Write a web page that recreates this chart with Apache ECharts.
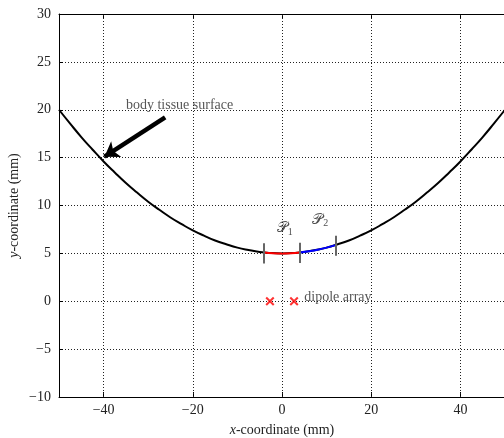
<!DOCTYPE html>
<html>
<head>
<meta charset="utf-8">
<script src="https://cdn.jsdelivr.net/npm/echarts@6/dist/echarts.min.js"></script>
<style>html,body{margin:0;padding:0;background:#fff;}#c{width:504px;height:438px;}</style>
</head>
<body>
<div id="c"></div>
<script>
// ---- data ----
const curveX = [-50,-47.5,-45,-42.5,-40,-37.5,-35,-32.5,-30,-27.5,-25,-22.5,-20,-17.5,-15,-12.5,-10,-7.5,-5,-2.5,0,2.5,5,7.5,10,12.5,15,17.5,20,22.5,25,27.5,30,32.5,35,37.5,40,42.5,45,47.5,50];
const curveY = [20.0,18.55,17.15,15.85,14.6,13.45,12.35,11.35,10.4,9.55,8.75,8.05,7.4,6.85,6.35,5.95,5.6,5.35,5.15,5.04,5.0,5.04,5.15,5.35,5.6,5.95,6.35,6.85,7.4,8.05,8.75,9.55,10.4,11.35,12.35,13.45,14.6,15.85,17.15,18.55,20.0];
const redX = [-4,-2,0,2,4];
const redY = [5.1,5.02,5.0,5.02,5.1];
const blueX = [4,6,8,10,12];
const blueY = [5.1,5.22,5.38,5.6,5.86];
const edgeX = [-4,4,12];
const edgeLow = [3.95,4.0,4.75];
const edgeHigh = [6.05,6.1,6.85];
const dipoleX = [-2.7,2.7];
const dipoleY = [0,0];
const xTickValues = [-40,-20,0,20,40];
const arrowFrom = [-26.2,19.2];
const arrowTo = [-39.8,15.1];
const surfaceLabel = 'body tissue surface';
const surfaceLabelPos = [-35,20.45];
const dipoleLabel = 'dipole array';
const dipoleLabelPos = [5.0,0.45];
const p1Pos = [0.6,7.6];
const p2Pos = [8.6,8.5];

const FONT = 'Liberation Serif';
const pair = (xs, ys) => xs.map((x,i)=>[x, ys[i]]);
const fmtMinus = v => String(v).replace('-', '\u2212');
const crossPath = 'path://M1.6,0 L5,3.4 L8.4,0 L10,1.6 L6.6,5 L10,8.4 L8.4,10 L5,6.6 L1.6,10 L0,8.4 L3.4,5 L0,1.6 Z';
const dotted = {color:'#222', width:1, type:[1,2]};

const chart = echarts.init(document.getElementById('c'), null, {renderer:'canvas'});
chart.setOption({
  animation:false,
  backgroundColor:'#fff',
  textStyle:{fontFamily:FONT},
  grid:{left:59, top:14, width:446, height:383, containLabel:false, outerBoundsMode:'none'},
  xAxis:[{
    type:'value', min:-50, max:50, position:'bottom',
    name:'{i|x}-coordinate (mm)', nameLocation:'middle', nameGap:26, nameMoveOverlap:false,
    nameTextStyle:{fontFamily:FONT, fontSize:14, color:'#222', rich:{i:{fontFamily:FONT, fontStyle:'italic', fontSize:14, color:'#222'}}},
    axisLine:{show:true, onZero:false, lineStyle:{color:'#000', width:1}},
    axisTick:{show:true, inside:true, length:5, customValues:xTickValues, lineStyle:{color:'#000'}},
    axisLabel:{show:true, customValues:xTickValues, formatter:fmtMinus, fontFamily:FONT, fontSize:14, color:'#222', margin:6},
    splitLine:{show:false}
  },{
    type:'value', min:-50, max:50, position:'top',
    axisLine:{show:true, onZero:false, lineStyle:{color:'#000', width:1}},
    axisTick:{show:true, inside:true, length:5, customValues:xTickValues, lineStyle:{color:'#000'}},
    axisLabel:{show:false},
    splitLine:{show:false}
  }],
  yAxis:[{
    type:'value', min:-10, max:30, interval:5, position:'left',
    name:'{i|y}-coordinate (mm)', nameLocation:'middle', nameGap:38, nameMoveOverlap:false,
    nameTextStyle:{fontFamily:FONT, fontSize:14, color:'#222', rich:{i:{fontFamily:FONT, fontStyle:'italic', fontSize:14, color:'#222'}}},
    axisLine:{show:true, onZero:false, lineStyle:{color:'#000', width:1}},
    axisTick:{show:true, inside:true, length:4, lineStyle:{color:'#000'}},
    axisLabel:{formatter:fmtMinus, fontFamily:FONT, fontSize:14, color:'#222', margin:8},
    splitLine:{show:true, lineStyle:dotted}
  }],
  series:[
    {
      type:'line', data:pair(curveX, curveY), smooth:true, showSymbol:false,
      lineStyle:{color:'#000', width:2}, z:3,
      markLine:{silent:true, symbol:'none', label:{show:false}, lineStyle:dotted,
        data:xTickValues.map(v=>({xAxis:v}))}
    },
    {type:'line', data:pair(redX, redY), smooth:true, showSymbol:false, lineStyle:{color:'#ff0000', width:2}, z:4},
    {type:'line', data:pair(blueX, blueY), smooth:true, showSymbol:false, lineStyle:{color:'#0000ff', width:2}, z:4},
    {type:'lines', coordinateSystem:'cartesian2d', z:5, symbol:'none',
      lineStyle:{color:'#666', width:2, opacity:1},
      data:edgeX.map((x,i)=>({coords:[[x, edgeLow[i]],[x, edgeHigh[i]]]}))},
    {type:'lines', coordinateSystem:'cartesian2d', z:6, symbol:['none','arrow'], symbolSize:[12,14],
      lineStyle:{color:'#000', width:4.5, opacity:1},
      data:[{coords:[arrowFrom, arrowTo]}]},
    {type:'scatter', data:pair(dipoleX, dipoleY), symbol:crossPath, symbolSize:9,
      itemStyle:{color:'#ff0000'}, z:6},
    {type:'scatter', symbolSize:0, z:7, silent:true,
      label:{show:true, position:[0,0], align:'left', verticalAlign:'middle',
        fontFamily:FONT, fontSize:14, color:'#2a2a2a', formatter:p=>p.data.t,
        rich:{P:{fontFamily:FONT, fontSize:15, color:'#222'}, s:{fontFamily:FONT, fontSize:10, color:'#222', padding:[8,0,0,0]}}},
      data:[
        {value:surfaceLabelPos, t:surfaceLabel},
        {value:dipoleLabelPos, t:dipoleLabel},
        {value:p1Pos, t:'{P|\uD835\uDCAB}{s|1}', label:{align:'center'}},
        {value:p2Pos, t:'{P|\uD835\uDCAB}{s|2}', label:{align:'center'}}
      ]}
  ]
});
</script>
</body>
</html>
